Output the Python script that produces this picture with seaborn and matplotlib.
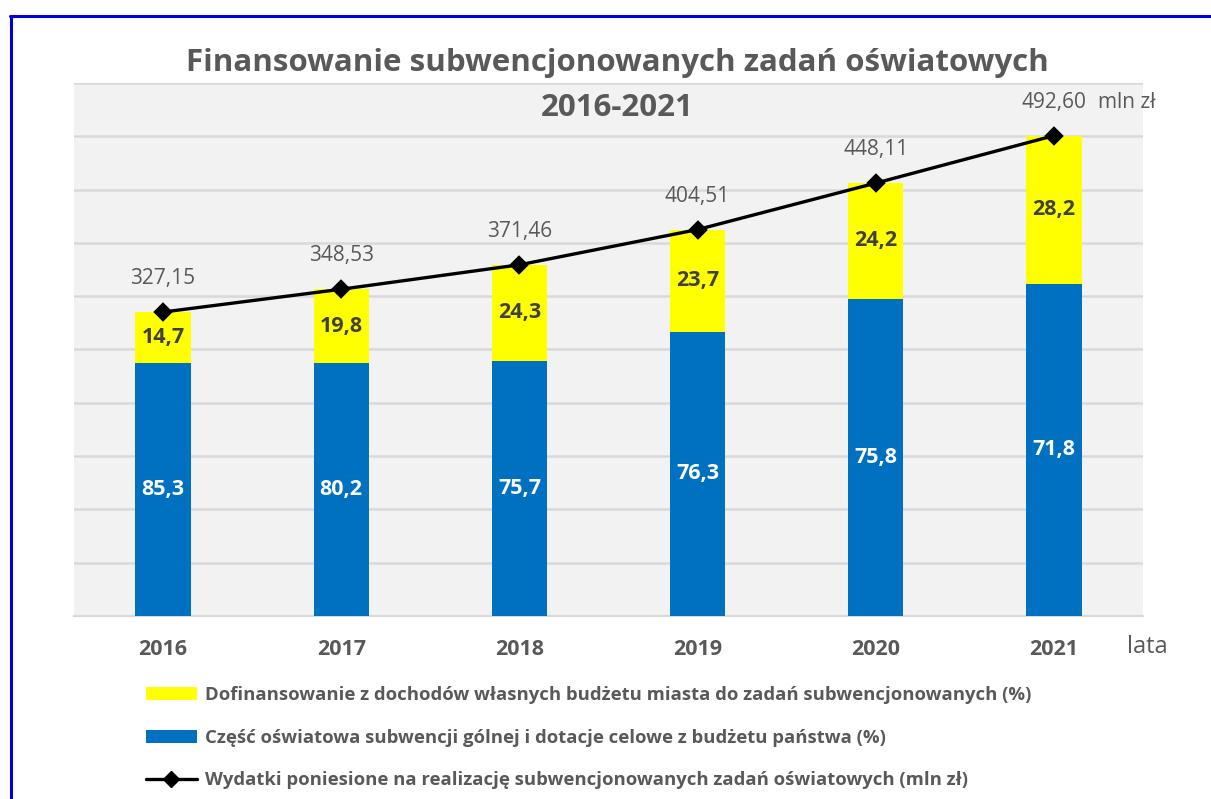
import numpy as np
import pandas as pd
import matplotlib
matplotlib.use("Agg")
import matplotlib.pyplot as plt
from matplotlib.lines import Line2D
from matplotlib.patches import Patch
import seaborn as sns

# ---- data ----
years = ["2016", "2017", "2018", "2019", "2020", "2021"]
total_mln = [327.15, 348.53, 371.46, 404.51, 448.11, 492.60]
pct_state = [85.3, 80.2, 75.7, 76.3, 75.8, 71.8]
pct_city = [14.7, 19.8, 24.3, 23.7, 24.2, 28.2]

legend_city = "Dofinansowanie z dochodów własnych budżetu miasta do zadań subwencjonowanych (%)"
legend_state = "Część oświatowa subwencji gólnej i dotacje celowe z budżetu państwa (%)"
legend_total = "Wydatki poniesione na realizację subwencjonowanych zadań oświatowych (mln zł)"
title_line1 = "Finansowanie subwencjonowanych zadań oświatowych"
title_line2 = "2016-2021"
unit_label = "mln zł"
x_unit_label = "lata"

# ---- style ----
sns.set_theme(style="white")
FONT = "Open Sans"
plt.rcParams["font.family"] = [FONT, "DejaVu Sans"]

W, H = 1211, 799
GREY_TXT = "#595959"
GRID = "#D9D9D9"
YELLOW = "#FFFF00"
BLUE = "#0070C0"
YMIN, YMAX = 42, 542

df = pd.DataFrame({"rok": years, "total": total_mln, "state": pct_state, "city": pct_city})
df["state_val"] = df["total"] * df["state"] / 100.0

fig = plt.figure(figsize=(W / 100, H / 100), dpi=100)
fig.patch.set_facecolor("white")
ax = fig.add_axes([74 / W, 1 - 616 / H, (1143 - 74) / W, (616 - 83) / H])
ax.set_facecolor("#F2F2F2")

sns.barplot(data=df, x="rok", y="total", color=YELLOW, width=0.31, saturation=1,
            errorbar=None, ax=ax, zorder=2, linewidth=0)
sns.barplot(data=df, x="rok", y="state_val", color=BLUE, width=0.31, saturation=1,
            errorbar=None, ax=ax, zorder=3, linewidth=0)
sns.pointplot(data=df, x="rok", y="total", color="black", markers="D", linestyles="-",
              errorbar=None, ax=ax, markersize=8, linewidth=2.4, zorder=5)

ax.set_ylim(YMIN, YMAX)
ax.set_xlim(-0.5, 5.5)
ax.set_yticks(np.arange(YMIN, YMAX + 1, 50))
ax.tick_params(axis="y", length=0, labelleft=False)
ax.yaxis.grid(True, color=GRID, lw=1.8)
ax.xaxis.grid(False)
ax.set_axisbelow(True)
for s in ["top", "left", "right"]:
    ax.spines[s].set_visible(False)
ax.spines["bottom"].set_color(GRID)
ax.spines["bottom"].set_linewidth(1.6)
ax.set_xlabel("")
ax.set_ylabel("")

ax.set_xticks(range(len(years)))
ax.set_xticklabels(years, fontsize=15.5, fontweight="bold", color=GREY_TXT)
ax.set_xticks(np.arange(-0.5, len(years), 1), minor=True)
ax.tick_params(axis="x", which="major", length=0, pad=16.5)
ax.tick_params(axis="x", which="minor", length=5, width=1.6, color=GRID, direction="out")

def fmt(v, d=1):
    return f"{v:.{d}f}".replace(".", ",")

for i, row in df.iterrows():
    ax.text(i, (row["state_val"] + row["total"]) / 2, fmt(row["city"]), ha="center", va="center",
            fontsize=15.5, fontweight="bold", color="#404040", zorder=6)
    ax.text(i, (YMIN + row["state_val"]) / 2, fmt(row["state"]), ha="center", va="center",
            fontsize=15.5, fontweight="bold", color="white", zorder=6)
    ax.annotate(fmt(row["total"], 2), (i, row["total"]), xytext=(0, 20), textcoords="offset points",
                ha="center", va="baseline", fontsize=15, color=GREY_TXT, zorder=6)

ax.annotate(unit_label, (len(years) - 1, total_mln[-1]), xytext=(32, 20), textcoords="offset points",
            ha="left", va="baseline", fontsize=15, color=GREY_TXT, annotation_clip=False)

fig.text(1127 / W, 1 - 653 / H, x_unit_label, ha="left", va="baseline", fontsize=17, color=GREY_TXT)

fig.text(617 / W, 1 - 71 / H, title_line1, ha="center", va="baseline", fontsize=22.5,
         fontweight="bold", color=GREY_TXT)
fig.text(617 / W, 1 - 116 / H, title_line2, ha="center", va="baseline", fontsize=22.5,
         fontweight="bold", color=GREY_TXT)

handles = [
    Patch(facecolor=YELLOW, edgecolor="none"),
    Patch(facecolor=BLUE, edgecolor="none"),
    Line2D([], [], color="black", lw=2.4, marker="D", markersize=8),
]
leg = fig.legend(handles, [legend_city, legend_state, legend_total], loc="upper left",
                 bbox_to_anchor=(146 / W, 1 - 686 / H), frameon=False, borderpad=0,
                 borderaxespad=0, handlelength=2.75, handletextpad=0.44,
                 labelspacing=1.33, prop={"weight": "bold", "size": 13.3})
for t in leg.get_texts():
    t.set_color(GREY_TXT)

# blue outer frame (top and left edges visible)
fig.add_artist(Line2D([10 / W, 1], [1 - 16 / H, 1 - 16 / H], transform=fig.transFigure,
                      color="#0000DD", lw=2.2))
fig.add_artist(Line2D([11 / W, 11 / W], [0, 1 - 16 / H], transform=fig.transFigure,
                      color="#0000DD", lw=2.2))

fig.savefig("out.png", dpi=100)
